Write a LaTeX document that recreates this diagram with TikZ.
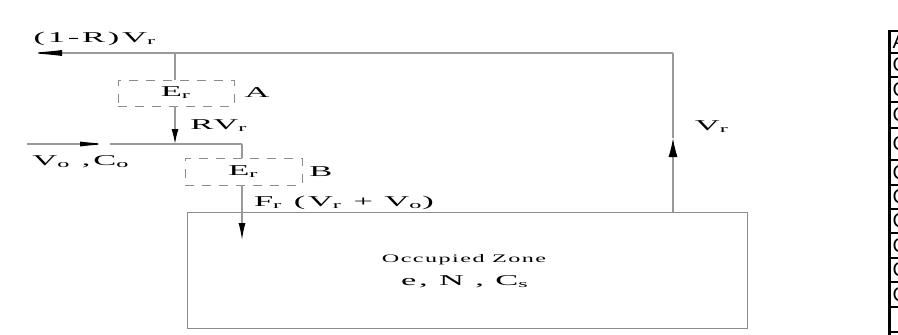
\documentclass[tikz,border=0pt]{standalone}
\usepackage{fontspec}
\setmainfont{Liberation Serif}
\newfontfamily\tabfont{Liberation Sans}
\usetikzlibrary{arrows.meta}
\newcommand\wt[1]{\scalebox{2.3}[1]{\addfontfeature{LetterSpace=8}#1}}
\newcommand\wz[1]{\scalebox{2.1}[1]{\addfontfeature{LetterSpace=6}#1}}
\begin{document}
\begin{tikzpicture}[x=1pt,y=-1pt,
  flow/.style={draw=black!40, line width=1.3pt},
  arrowtip/.style 2 args={-{Latex[length=#1,width=#2,color=black]}},
  lbl/.style={font=\fontsize{15}{18}\selectfont, inner sep=0pt},
  dbox/.style={draw=black!45, line width=0.9pt, dash pattern=on 9pt off 8pt, fill=white, inner sep=0pt},
  tabtxt/.style={font=\tabfont\fontsize{20}{20}\selectfont, anchor=west, inner sep=0pt},
  tabline/.style={line width=2.2pt}]
\useasboundingbox (0,0) rectangle (898,335);
\fill[white] (0,0) rectangle (898,335);

% occupied zone
\node[draw=black!45, line width=1pt, minimum width=560pt, minimum height=116pt, inner sep=0pt] (zone) at (467,270) {};
\node[font=\fontsize{11.5}{14}\selectfont, inner sep=0pt] (oz) at (464,260) {\wz{Occupied Zone}};
\node[lbl] (en) at (465,282) {\wt{e, N , C\textsubscript{s}}};

% coordinates
\coordinate (tl) at (27,53);
\coordinate (tr) at (673,53);
\coordinate (ja) at (175,53);
\coordinate (jb) at (175,144);
\coordinate (vin) at (27,144);
\coordinate (vmid) at (110,144);
\coordinate (jc) at (242,144);
\coordinate (fend) at (242,240);
\coordinate (zr) at (673,212);
\coordinate (vrmid) at (673,138);

% dashed boxes
\node[dbox, minimum width=116pt, minimum height=26pt] (ea) at (176,93) {};
\node[dbox, minimum width=117pt, minimum height=27pt] (eb) at (243.5,171.5) {};

% flows
\draw[flow, arrowtip={35pt}{6pt}] (tr) -- (tl);
\draw[flow] (ja) -- (ja |- ea.north);
\draw[flow, arrowtip={15pt}{7pt}] (ja |- ea.south) -- (jb);
\draw[flow, arrowtip={30pt}{5pt}] (vin) -- (vmid);
\draw[flow] (vmid) -- (jc);
\draw[flow] (jc) -- (jc |- eb.north);
\draw[flow, arrowtip={17pt}{7pt}] (jc |- eb.south) -- (fend);
\draw[flow, arrowtip={19pt}{9pt}] (zr) -- (vrmid);
\draw[flow] (vrmid) -- (tr);

% box texts
\node[lbl] (era) at (ea.center) {\wt{E\textsubscript{r}}};
\node[lbl] (erb) at (eb.center) {\wt{E\textsubscript{r}}};

% labels
\node[lbl] (t1) at (95,39) {\wt{(1-R)V\textsubscript{r}}};
\node[lbl] (la) at (257,93) {\wt{A}};
\node[lbl] (rv) at (219,126) {\wt{RV\textsubscript{r}}};
\node[lbl] (vo) at (81,162) {\wt{V\textsubscript{o} ,C\textsubscript{o}}};
\node[lbl] (lb) at (321,172) {\wt{B}};
\node[lbl] (fr) at (344,203) {\wt{F\textsubscript{r} (V\textsubscript{r} + V\textsubscript{o})}};
\node[lbl] (vr) at (712,127) {\wt{V\textsubscript{r}}};

% clipped table at right edge
\begin{scope}
\clip (0,0) rectangle (898,335);
\draw[line width=3pt] (889.5,30) -- (889.5,340);
\foreach \yy in {31,53,77,102,128,160,185,209,233,258,282,307,332}
  \draw[tabline] (888,\yy) -- (900,\yy);
\node[tabtxt] (ta) at (892.5,42) {A};
\foreach \yy in {65,89.5,115,144,172.5,197,221,245.5,270,294.5}
  \node[tabtxt] at (892.5,\yy) {C};
\end{scope}
\end{tikzpicture}
\end{document}
